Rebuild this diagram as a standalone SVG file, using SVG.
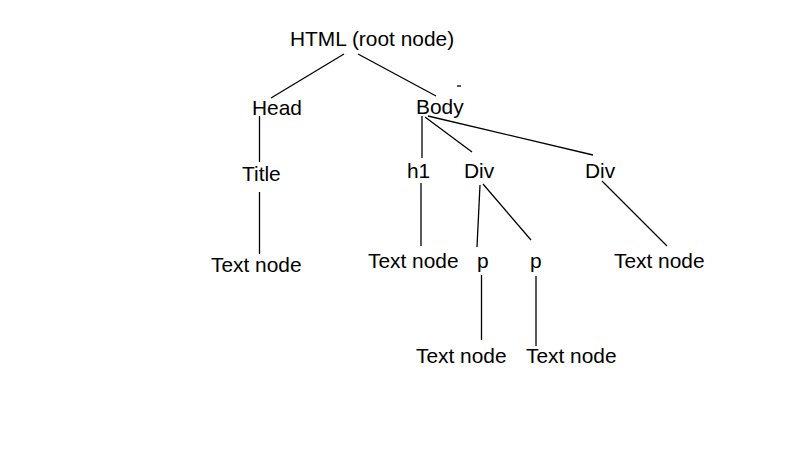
<svg xmlns="http://www.w3.org/2000/svg" width="795" height="460" viewBox="0 0 795 460">
<style>
text{font-family:"Liberation Sans",Arial,sans-serif;font-size:20.9px;fill:#000}
.c line{stroke:#000;stroke-width:1.3;fill:none}
</style>
<rect width="795" height="460" fill="#fff"/>
<g class="c" id="connectors">
<line x1="344" y1="54" x2="271" y2="98"/>
<line x1="358" y1="54" x2="436" y2="96"/>
<line x1="457" y1="86" x2="461" y2="86"/>
<line x1="259.5" y1="116" x2="259.5" y2="162"/>
<line x1="259.5" y1="192" x2="259.5" y2="254"/>
<line x1="422" y1="116" x2="422" y2="158"/>
<line x1="425" y1="117" x2="472" y2="152"/>
<line x1="428" y1="116" x2="593" y2="155"/>
<line x1="421" y1="183" x2="421" y2="246"/>
<line x1="480" y1="185" x2="477" y2="247"/>
<line x1="483" y1="184" x2="531" y2="240"/>
<line x1="602" y1="181" x2="667" y2="246"/>
<line x1="481.5" y1="275" x2="481.5" y2="340"/>
<line x1="536" y1="276" x2="536" y2="346"/>
</g>
<g id="html"><text x="290" y="46">HTML (root node)</text></g>
<g id="head"><text x="252" y="115">Head</text></g>
<g id="body"><text x="416" y="114">Body</text></g>
<g id="title"><text x="242" y="181">Title</text></g>
<g id="h1"><text x="407" y="178">h1</text></g>
<g id="div1"><text x="464" y="178">Div</text></g>
<g id="div2"><text x="585" y="178">Div</text></g>
<g id="text-title"><text x="211" y="272">Text node</text></g>
<g id="text-h1"><text x="368" y="268">Text node</text></g>
<g id="p1"><text x="477" y="268">p</text></g>
<g id="p2"><text x="530" y="268">p</text></g>
<g id="text-div2"><text x="614" y="268">Text node</text></g>
<g id="text-p1"><text x="416" y="363">Text node</text></g>
<g id="text-p2"><text x="526" y="363">Text node</text></g>
</svg>
